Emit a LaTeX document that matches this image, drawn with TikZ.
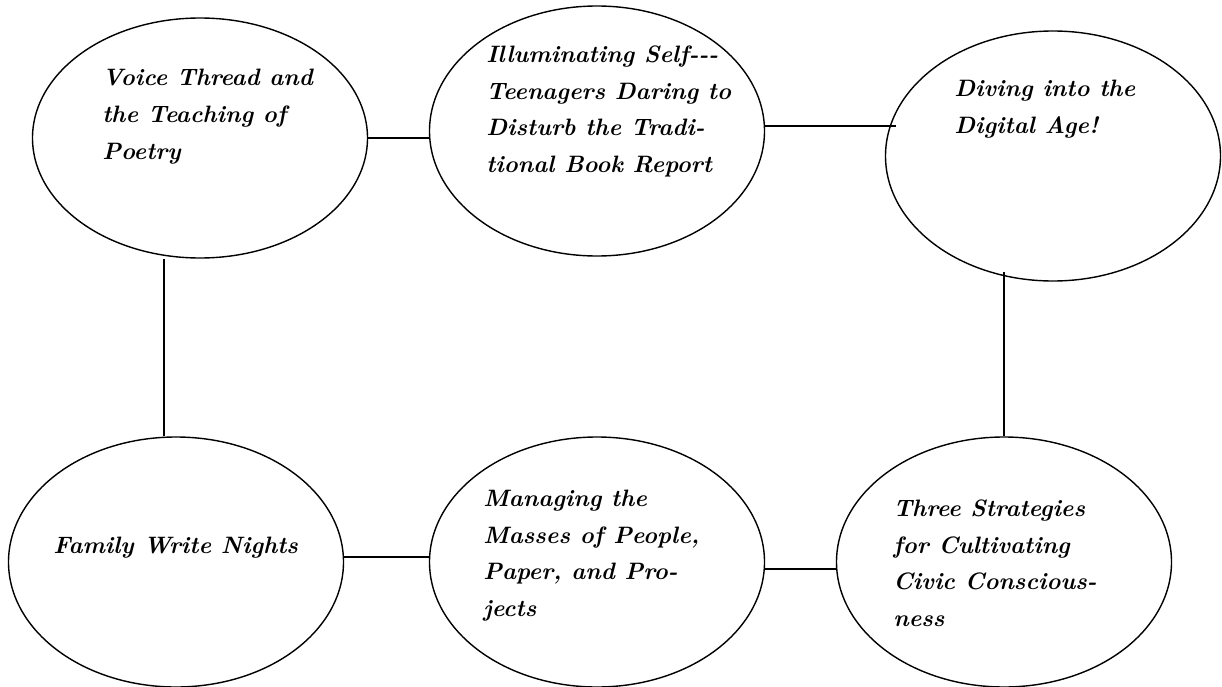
\documentclass[tikz,border=0pt]{standalone}
\usepackage{fontspec}
\usepackage{tikz}
\usetikzlibrary{positioning}
\usetikzlibrary{shapes.geometric}
\begin{document}
\begin{tikzpicture}[bubble/.style={ellipse, draw, line width=0.8pt, minimum width=6.7cm, minimum height=5cm, inner sep=0pt},
			blurb/.style={anchor=base west, align=left, inner sep=0pt, font=\fontsize{13.5}{20.8}\selectfont\bfseries\itshape},
			link/.style={line width=0.8pt}]
			\useasboundingbox (0,0) rectangle (24.44,-13.74);
			% the six topics
			\node at (4.00,-2.76) (VT) [bubble, minimum height=4.8cm] {};
			\node at (11.94,-2.62) (IS) [bubble] {};
			\node at (21.06,-3.12) (DA) [bubble] {};
			\node at (3.52,-11.24) (FW) [bubble] {};
			\node at (11.94,-11.24) (MM) [bubble] {};
			\node at (20.08,-11.24) (TS) [bubble] {};
			% texts, anchored on their last line
			\node at (2.04,-3.18) (VTt) [blurb] {Voice Thread and\\the Teaching of\\Poetry};
			\node at (9.72,-3.45) (ISt) [blurb] {Illuminating Self{-}{-}{-}\\Teenagers Daring to\\Disturb the Tradi-\\tional Book Report};
			\node at (19.08,-2.67) (DAt) [blurb] {Diving into the\\Digital Age!};
			\node at (1.06,-11.06) (FWt) [blurb] {Family Write Nights};
			\node at (9.66,-12.33) (MMt) [blurb] {Managing the\\Masses of People,\\Paper, and Pro-\\jects};
			\node at (17.86,-12.53) (TSt) [blurb] {Three Strategies\\for Cultivating\\Civic Conscious-\\ness};
			% links
			\draw [link] (VT.east) -- (VT.east -| IS.west);
			\draw [link] ([yshift=0.1cm]IS.east) -- ([xshift=0.22cm,yshift=0.1cm]IS.east -| DA.west);
			\draw [link] ([xshift=-0.24cm]FW.north) -- ([xshift=-0.24cm]FW.north |- VT.south);
			\draw [link] (TS.north) -- ([yshift=0.2cm]TS.north |- DA.south);
			\draw [link] ([yshift=0.1cm]FW.east) -- ([yshift=0.1cm]FW.east -| MM.west);
			\draw [link] ([yshift=-0.14cm]MM.east) -- ([yshift=-0.14cm]MM.east -| TS.west);
\end{tikzpicture}
\end{document}
